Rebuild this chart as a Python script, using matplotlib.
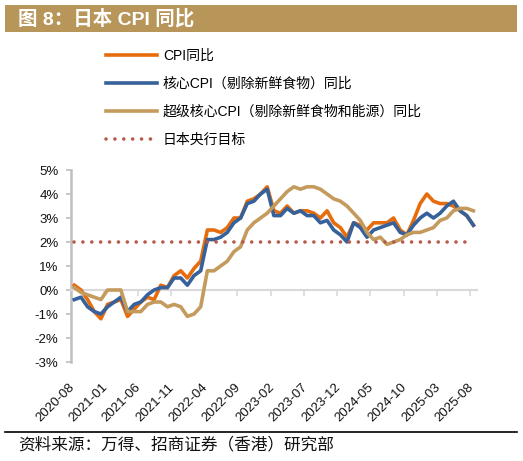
import matplotlib
matplotlib.use("Agg")
import matplotlib.pyplot as plt
import pandas as pd
from matplotlib.patches import Rectangle
from matplotlib.lines import Line2D

# ---------------- data ----------------
months = pd.date_range("2020-08-01", "2025-08-01", freq="MS").strftime("%Y-%m").tolist()

cpi = [0.2, 0.0, -0.4, -0.9, -1.2,
       -0.6, -0.5, -0.4, -1.1, -0.8, -0.5, -0.3, -0.4, 0.2, 0.1, 0.6, 0.8,
       0.5, 0.9, 1.2, 2.5, 2.5, 2.4, 2.6, 3.0, 3.0, 3.7, 3.8, 4.0,
       4.3, 3.3, 3.2, 3.5, 3.2, 3.3, 3.3, 3.2, 3.0, 3.3, 2.8, 2.6,
       2.2, 2.8, 2.7, 2.5, 2.8, 2.8, 2.8, 3.0, 2.5, 2.3, 2.9, 3.6,
       4.0, 3.7, 3.6, 3.6, 3.5, 3.3, 3.1, 2.7]

core = [-0.4, -0.3, -0.7, -0.9, -1.0,
        -0.7, -0.5, -0.3, -0.9, -0.6, -0.5, -0.2, 0.0, 0.1, 0.1, 0.5, 0.5,
        0.2, 0.6, 0.8, 2.1, 2.1, 2.2, 2.4, 2.8, 3.0, 3.6, 3.7, 4.0,
        4.2, 3.1, 3.1, 3.4, 3.2, 3.3, 3.1, 3.1, 2.8, 2.9, 2.5, 2.3,
        2.0, 2.8, 2.6, 2.2, 2.5, 2.6, 2.7, 2.8, 2.4, 2.3, 2.7, 3.0,
        3.2, 3.0, 3.2, 3.5, 3.7, 3.3, 3.1, 2.7]

core_core = [0.1, -0.1, -0.2, -0.3, -0.4,
             0.0, 0.0, 0.0, -0.9, -0.9, -0.9, -0.6, -0.5, -0.5, -0.7, -0.6, -0.7,
             -1.1, -1.0, -0.7, 0.8, 0.8, 1.0, 1.2, 1.6, 1.8, 2.5, 2.8, 3.0,
             3.2, 3.5, 3.8, 4.1, 4.3, 4.2, 4.3, 4.3, 4.2, 4.0, 3.8, 3.7,
             3.5, 3.2, 2.9, 2.4, 2.1, 2.2, 1.9, 2.0, 2.1, 2.3, 2.4, 2.4,
             2.5, 2.6, 2.9, 3.0, 3.3, 3.4, 3.4, 3.3]

boj_target = [2.0] * len(months)

series_names = ["CPI同比",
                "核心CPI（剔除新鲜食物）同比",
                "超级核心CPI（剔除新鲜食物和能源）同比",
                "日本央行目标"]
tick_labels = ["2020-08", "2021-01", "2021-06", "2021-11", "2022-04", "2022-09",
               "2023-02", "2023-07", "2023-12", "2024-05", "2024-10", "2025-03", "2025-08"]
y_ticks = [-3, -2, -1, 0, 1, 2, 3, 4, 5]

title = "图 8：日本 CPI 同比"
source = "资料来源：万得、招商证券（香港）研究部"

# ---------------- style ----------------
C_ORANGE = "#E66C0C"
C_BLUE = "#36619A"
C_GOLD = "#C49B5C"
C_TARGET = "#B85A4A"
C_BAND = "#B8965A"
FONT = ["Liberation Sans", "Noto Sans CJK SC", "DejaVu Sans"]
plt.rcParams["font.family"] = FONT

fig = plt.figure(figsize=(5.23, 4.61), dpi=100)

# title band
fig.patches.append(Rectangle((5 / 523, 1 - 32 / 461), 512 / 523, 27 / 461,
                             transform=fig.transFigure, facecolor=C_BAND,
                             edgecolor="none"))
fig.text(18 / 523, 1 - 18.5 / 461, title, color="white", fontsize=14,
         fontweight="bold", va="center", ha="left",
         family=["Liberation Sans", "Noto Sans CJK SC"])

ax = fig.add_axes([71 / 523, 1 - 362 / 461, 405.7 / 523, 192 / 461])
x = list(range(len(months)))

lw = 2.6
ax.plot(x, cpi, color=C_ORANGE, lw=lw, solid_joinstyle="round", zorder=3,
        label=series_names[0])
ax.plot(x, core, color=C_BLUE, lw=lw, solid_joinstyle="round", zorder=4,
        label=series_names[1])
ax.plot(x, core_core, color=C_GOLD, lw=lw, solid_joinstyle="round", zorder=5,
        label=series_names[2])
ax.plot(x, boj_target, color=C_TARGET, lw=2.6, linestyle=(0, (0.01, 2.45)),
        dash_capstyle="round", zorder=6, label=series_names[3])

ax.set_xlim(-0.5, len(months) - 0.5)
ax.set_ylim(-3, 5)
ax.set_yticks(y_ticks)
ax.set_yticklabels([f"{v}%" for v in y_ticks], fontsize=9.5)
ax.tick_params(axis="y", direction="out", length=3.5, width=1.2,
               color="#BFBFBF", pad=5.5, labelcolor="#111111")

for s in ["top", "right"]:
    ax.spines[s].set_visible(False)
ax.spines["left"].set_color("#BFBFBF")
ax.spines["left"].set_linewidth(1.8)
ax.spines["bottom"].set_position(("data", 0))
ax.spines["bottom"].set_color("#D9D9D9")
ax.spines["bottom"].set_linewidth(1.5)

tick_idx = [months.index(t) for t in tick_labels]
ax.set_xticks([i - 0.5 for i in tick_idx])
ax.tick_params(axis="x", direction="out", length=4, width=1.2, color="#D9D9D9",
               labelbottom=False)

sec = ax.secondary_xaxis("bottom")
sec.spines["bottom"].set_visible(False)
sec.set_xticks([i - 0.25 for i in tick_idx])
sec.set_xticklabels(tick_labels, rotation=45, ha="right", va="center",
                    rotation_mode="anchor", fontsize=9.5, color="#111111")
sec.tick_params(axis="x", length=0, pad=17)

# legend
handles, labels = ax.get_legend_handles_labels()
leg = fig.legend(handles, labels, loc="upper left",
                 bbox_to_anchor=(106 / 523, 1 - 49 / 461),
                 frameon=False, handlelength=3.7,
                 handletextpad=0.4, labelspacing=1.0, borderpad=0,
                 borderaxespad=0,
                 prop={"family": ["Liberation Sans", "Noto Sans CJK SC"], "size": 10})

# bottom rule and source
fig.add_artist(Line2D([5 / 523, 517 / 523], [1 - 432 / 461, 1 - 432 / 461],
                      transform=fig.transFigure, color="black", lw=1.2))
fig.text(18 / 523, 1 - 445 / 461, source, fontsize=12, ha="left", va="center",
         style="italic", family=["Noto Sans CJK SC"], color="#111111")

fig.savefig("out.png", dpi=100)
